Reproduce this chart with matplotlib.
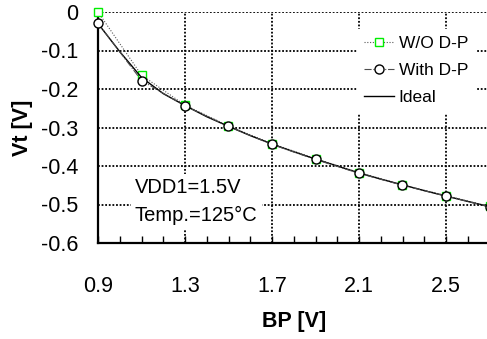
import matplotlib
matplotlib.use('Agg')
import matplotlib.pyplot as plt
import numpy as np

plt.rcParams['font.family'] = ['Liberation Sans', 'DejaVu Sans']
plt.rcParams['axes.unicode_minus'] = False

# data
bp = [0.9, 1.1, 1.3, 1.5, 1.7, 1.9, 2.1, 2.3, 2.5, 2.7]
vt_wo = [0.0, -0.164, -0.242, -0.296, -0.342, -0.381, -0.417, -0.449, -0.477, -0.505]
vt_with = [-0.029, -0.178, -0.244, -0.297, -0.344, -0.383, -0.419, -0.450, -0.478, -0.506]
bp_ideal = [0.9, 1.0, 1.1, 1.2, 1.3, 1.4, 1.5, 1.6, 1.7, 1.8, 1.9, 2.0, 2.1, 2.2, 2.3, 2.4, 2.5, 2.6, 2.7]
vt_ideal = [-0.030, -0.103, -0.170, -0.212, -0.243, -0.272, -0.297, -0.321, -0.343, -0.363,
            -0.382, -0.400, -0.418, -0.434, -0.449, -0.464, -0.478, -0.492, -0.506]
xticks = [0.9, 1.3, 1.7, 2.1, 2.5]
yticks = [0, -0.1, -0.2, -0.3, -0.4, -0.5, -0.6]
ylabels = ['0', '-0.1', '-0.2', '-0.3', '-0.4', '-0.5', '-0.6']

fig = plt.figure(figsize=(4.87, 3.39), dpi=100)
ax = fig.add_axes([98/487, 96/339, 391.5/487, 231/339])

ax.plot(bp, vt_wo, color='0.35', lw=0.8, ls=(0, (1, 1.5)), marker='s', ms=5.5,
        mfc='white', mec='#00ee00', mew=1.0, label='W/O D-P', zorder=3, clip_on=False)
ax.plot(bp, vt_with, color='0.3', lw=0.8, ls='-.', marker='o', ms=6.5,
        mfc='white', mec='black', mew=1.0, label='With D-P', zorder=4, clip_on=False)
ax.plot(bp_ideal, vt_ideal, color='black', lw=1.0, label='Ideal', zorder=3.5)

ax.set_xlim(0.9, 2.7)
ax.set_ylim(-0.6, 0)
ax.set_xticks(xticks)
ax.set_xticklabels([f'{v:.1f}' for v in xticks])
ax.set_xticks(np.arange(1.0, 2.7, 0.1), minor=True)
ax.set_yticks(yticks)
ax.set_yticklabels(ylabels)
ax.tick_params(axis='x', which='both', direction='in', length=5, width=1, pad=24, labelsize=15.5)
ax.tick_params(axis='y', which='both', length=0, pad=14, labelsize=15.5)
ax.grid(True, which='major', color='black', ls=(0, (1, 1)), lw=1.3)
ax.set_axisbelow(True)
for s in ['top', 'right']:
    ax.spines[s].set_visible(False)
for s in ['left', 'bottom']:
    ax.spines[s].set_linewidth(1.6)

ax.set_xlabel('BP [V]', fontsize=15.5, fontweight='bold', labelpad=10)
ax.set_ylabel('Vt [V]', fontsize=15.5, fontweight='bold', labelpad=6)

leg = ax.legend(loc='upper left', bbox_to_anchor=(357/487, 1 - 29/339),
                bbox_transform=fig.transFigure, fontsize=12.5, frameon=True,
                facecolor='white', edgecolor='white', framealpha=1, fancybox=False,
                handlelength=1.75, handletextpad=0.25, labelspacing=0.68,
                borderaxespad=0, borderpad=0.4)
leg.set_zorder(6)

ax.text(1.07, -0.552, 'VDD1=1.5V\nTemp.=125°C', fontsize=14.5, linespacing=1.55,
        ha='left', va='bottom', zorder=5,
        bbox=dict(facecolor='white', edgecolor='none', pad=3))

fig.savefig('out.png', dpi=100)
